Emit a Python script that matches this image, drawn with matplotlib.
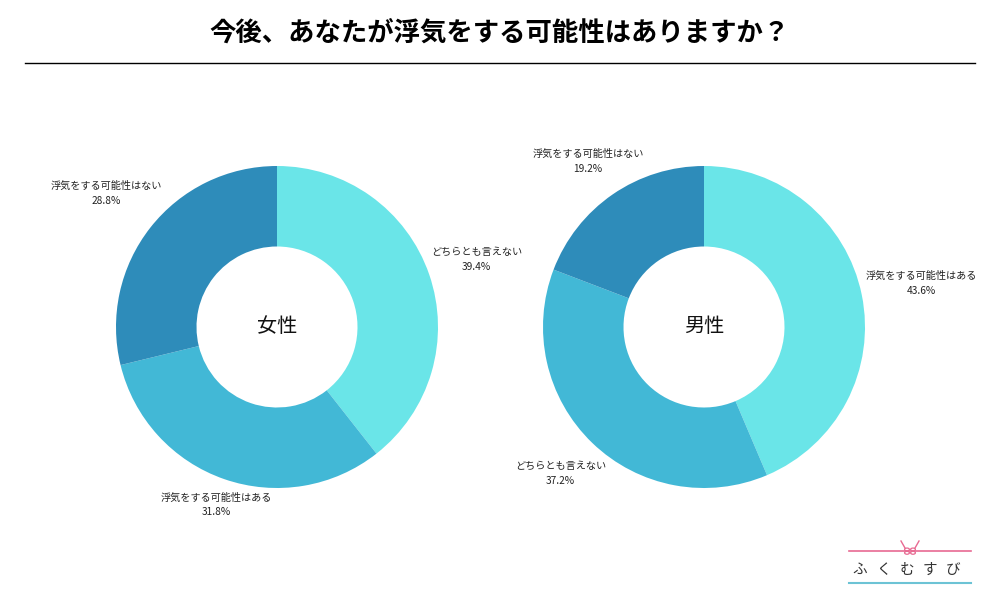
import matplotlib
matplotlib.use("Agg")
import matplotlib.pyplot as plt
from matplotlib.lines import Line2D
from matplotlib.patches import Circle

plt.rcParams['font.family'] = ['Noto Sans CJK JP', 'DejaVu Sans']

# ---- data ----
title = "今後、あなたが浮気をする可能性はありますか？"

female_labels = ["どちらとも言えない", "浮気をする可能性はある", "浮気をする可能性はない"]
female_values = [39.4, 31.8, 28.8]

male_labels = ["浮気をする可能性はある", "どちらとも言えない", "浮気をする可能性はない"]
male_values = [43.6, 37.2, 19.2]

female_colors = ["#6AE5E8", "#42B8D6", "#2E8CBA"]
male_colors = ["#6AE5E8", "#42B8D6", "#2E8CBA"]

# label text positions (in units of pie radius)
female_label_pos = [(1.24, 0.42), (-0.38, -1.105), (-1.06, 0.83)]
male_label_pos = [(1.35, 0.27), (-0.89, -0.91), (-0.72, 1.03)]

logo_chars = ["ふ", "く", "む", "す", "び"]

W, H = 1000, 600
fig = plt.figure(figsize=(10, 6), dpi=100)
fig.patch.set_facecolor("white")

# title + rule
fig.text(0.5, 1 - 33 / H, title, ha="center", va="center", fontsize=19, fontweight="bold")
fig.add_artist(Line2D([25 / W, 975 / W], [1 - 63 / H, 1 - 63 / H], color="black", lw=1))

R_PX = 161
LIM = 1.5
S = 2 * LIM * R_PX


def donut(cx, cy, values, labels, colors, pos, center_text):
    ax = fig.add_axes([(cx - S / 2) / W, 1 - (cy + S / 2) / H, S / W, S / H])
    ax.pie(values, colors=colors, startangle=90, counterclock=False, radius=1,
           wedgeprops=dict(width=0.5, edgecolor="none"))
    ax.set_xlim(-LIM, LIM)
    ax.set_ylim(-LIM, LIM)
    ax.set_aspect("equal")
    ax.axis("off")
    for lab, v, (x, y) in zip(labels, values, pos):
        ax.text(x, y, f"{lab}\n{v}%", ha="center", va="center", fontsize=7.3,
                linespacing=1.6, color="#222222")
    ax.text(0, 0, center_text, ha="center", va="center", fontsize=14.5, color="#111111")


donut(277, 327, female_values, female_labels, female_colors, female_label_pos, "女性")
donut(704, 327, male_values, male_labels, male_colors, male_label_pos, "男性")

# logo
pink = "#E86A92"
teal = "#6CC3D5"
fig.add_artist(Line2D([849 / W, 971 / W], [1 - 551 / H] * 2, color=pink, lw=1.2))
fig.add_artist(Line2D([849 / W, 971 / W], [1 - 583 / H] * 2, color=teal, lw=1.5))
fig.add_artist(Line2D([901 / W, 905 / W], [1 - 541 / H, 1 - 548 / H], color=pink, lw=1))
fig.add_artist(Line2D([919 / W, 915 / W], [1 - 541 / H, 1 - 548 / H], color=pink, lw=1))
for dx, dy in [(-3, -1.5), (3, -1.5), (-3, 1.8), (3, 1.8)]:
    fig.add_artist(Circle(((910 + dx) / W, 1 - (551 + dy) / H), 2.4 / W,
                          transform=fig.transFigure, fill=False, ec=pink, lw=0.9))
for i, ch in enumerate(logo_chars):
    fig.text((860 + i * 23.3) / W, 1 - 570 / H, ch, ha="center", va="center",
             fontsize=10.5, color="#333333")

fig.savefig("out.png", dpi=100, facecolor="white")
